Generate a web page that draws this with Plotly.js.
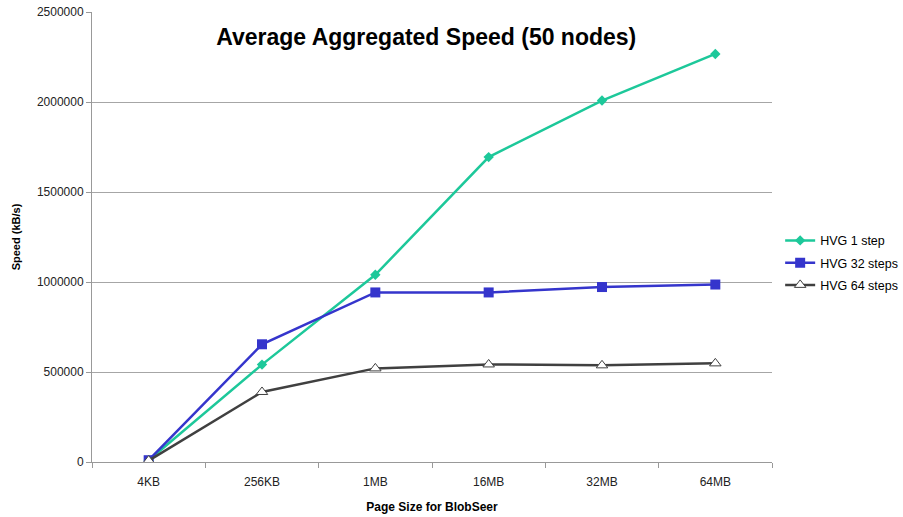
<!DOCTYPE html>
<html><head><meta charset="utf-8">
<script src="https://cdn.plot.ly/plotly-3.0.1.min.js"></script>
<style>html,body{margin:0;padding:0;background:#fff}</style>
</head><body>
<div id="chart" style="width:903px;height:517px"></div>
<script>
const categories = ["4KB","256KB","1MB","16MB","32MB","64MB"];
const hvg1 = [10000, 541000, 1040000, 1694000, 2008000, 2267000];
const hvg32 = [10000, 654000, 942000, 942000, 972000, 986000];
const hvg64 = [8000, 389000, 520000, 542000, 537000, 548000];
const yTicks = [0, 500000, 1000000, 1500000, 2000000, 2500000];

const traces = [
  {x: categories, y: hvg1, name: "HVG 1 step", mode: "lines+markers", legendgroup: "a",
   line: {color: "#1DC89A", width: 2.5}, marker: {symbol: "diamond", size: 8, color: "#1DC89A"}},
  {x: categories, y: hvg32, name: "HVG 32 steps", mode: "lines+markers", legendgroup: "b",
   line: {color: "#3535CC", width: 2.5}, marker: {symbol: "square", size: 10, color: "#3535CC"}},
  {x: categories, y: hvg64, name: "HVG 64 steps", mode: "lines+markers", legendgroup: "c",
   line: {color: "#404040", width: 2.5}, marker: {symbol: "triangle-up", size: 10, color: "#ffffff", line: {color: "#404040", width: 1}}}
];
const layout = {
  width: 903, height: 517,
  margin: {l: 92, r: 131, t: 12, b: 55, autoexpand: false},
  paper_bgcolor: "#fff", plot_bgcolor: "#fff",
  font: {family: "Arial, Liberation Sans, sans-serif", size: 12, color: "#222"},
  title: {text: "<b>Average Aggregated Speed (50 nodes)</b>", x: 0.472, xanchor: "center", y: 0.928, yanchor: "middle",
          font: {size: 23, color: "#000"}},
  xaxis: {type: "category", range: [-0.5, 5.5], tickson: "boundaries", ticks: "outside", ticklen: 5, tickcolor: "#999",
          showline: true, linecolor: "#999", linewidth: 1, showgrid: false, zeroline: false,
          tickfont: {size: 12}, fixedrange: true, ticklabelstandoff: 9,
          title: {text: "<b>Page Size for BlobSeer</b>", font: {size: 12, color: "#000"}, standoff: 14}},
  yaxis: {range: [0, 2500000], tickvals: yTicks, ticktext: yTicks.map(String), ticks: "outside", ticklen: 5,
          tickcolor: "#999", showline: true, linecolor: "#999", linewidth: 1, showgrid: true, gridcolor: "#A6A6A6",
          gridwidth: 1, zeroline: false, tickfont: {size: 12},
          title: {text: "<b>Speed (kB/s)</b>", font: {size: 11, color: "#000"}, standoff: 14}},
  legend: {x: 1.012, y: 0.525, xanchor: "left", yanchor: "top", font: {size: 12.5, color: "#000"},
           traceorder: "grouped", tracegroupgap: 3, itemwidth: 30, bgcolor: "rgba(0,0,0,0)"},
  showlegend: true
};
Plotly.newPlot("chart", traces, layout, {displayModeBar: false, staticPlot: true});
</script>
</body></html>
